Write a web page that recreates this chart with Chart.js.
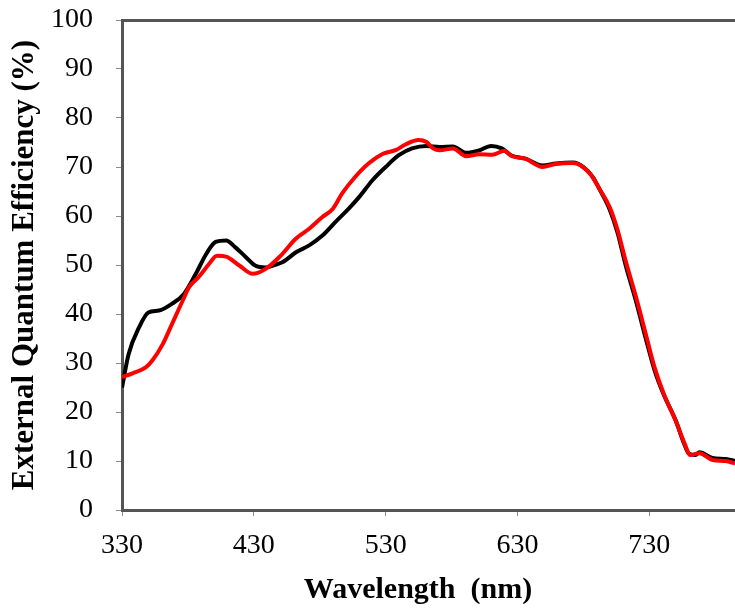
<!DOCTYPE html>
<html>
<head>
<meta charset="utf-8">
<script src="https://cdn.jsdelivr.net/npm/chart.js@4"></script>
<style>
  body { margin: 0; background: #fff; }
  #wrap { width: 735px; height: 613px; position: relative; }
</style>
</head>
<body>
<div id="wrap"><canvas id="eqe"></canvas></div>
<script>
// wavelength (nm) / EQE (%)
const blackX = [330, 335, 343, 350, 358, 368, 377, 386, 394, 401, 409, 416, 424, 431, 439, 448, 452, 462, 472, 482,
  492, 502, 510, 520, 530, 540, 550, 561, 571, 581, 591, 601, 610, 618, 625, 636, 649, 659, 672, 680,
  687, 692, 700, 706, 712, 720, 728, 734, 741, 750, 756, 760, 765, 768, 778, 788, 795];
const blackY = [25.0, 31.8, 37.3, 40.3, 40.7, 42.1, 44.1, 48.2, 52.3, 54.7, 55.0, 53.6, 51.6, 49.9, 49.5, 50.2, 50.6, 52.6, 54.0, 56.0,
  58.8, 61.5, 63.9, 67.3, 70.0, 72.4, 73.8, 74.3, 74.1, 74.2, 72.9, 73.4, 74.3, 73.8, 72.4, 71.7, 70.3, 70.7, 70.9, 70.0,
  68.0, 65.6, 61.3, 56.5, 50.0, 42.5, 34.3, 28.5, 23.5, 18.3, 13.8, 11.5, 11.2, 11.8, 10.6, 10.4, 10.0];

const redX = [330, 338, 348, 353, 361, 368, 376, 381, 388, 396, 402, 409, 419, 429, 439, 450, 462, 472, 482, 490,
  497, 507, 517, 528, 538, 545, 555, 561, 566, 571, 581, 591, 601, 611, 620, 626, 636, 649, 659, 672,
  678, 686, 692, 700, 706, 712, 720, 728, 734, 741, 750, 757, 761, 768, 778, 788, 795];
const redY = [27.1, 27.9, 29.1, 30.5, 33.9, 38.0, 42.7, 45.5, 47.5, 50.2, 51.9, 51.7, 49.9, 48.2, 49.2, 51.8, 55.4, 57.4, 59.8, 61.5,
  64.6, 68.0, 70.7, 72.7, 73.5, 74.6, 75.5, 75.1, 73.8, 73.4, 73.8, 72.2, 72.6, 72.5, 73.3, 72.2, 71.7, 70.0, 70.6, 70.8,
  70.3, 68.3, 65.6, 61.8, 57.1, 50.9, 43.4, 35.2, 29.1, 23.7, 18.2, 13.4, 11.2, 11.6, 10.2, 10.0, 9.5];

const xTicks = [330, 430, 530, 630, 730];

const SERIF = '"Liberation Serif", "Times New Roman", serif';

function toPoints(xs, ys) {
    return xs.map((x, i) => ({ x: x, y: ys[i] }));
}

// axis titles drawn by hand so they sit where the original put them
const axisTitles = {
    id: 'axisTitles',
    afterDraw(chart) {
        const ctx = chart.ctx;
        ctx.save();
        ctx.fillStyle = '#000';
        ctx.textAlign = 'center';
        ctx.textBaseline = 'alphabetic';
        ctx.font = 'bold 30px ' + SERIF;
        ctx.fillText('Wavelength  (nm)', 418, 598);
        ctx.translate(25, 265);
        ctx.rotate(-Math.PI / 2);
        ctx.textBaseline = 'middle';
        ctx.font = 'bold 31px ' + SERIF;
        ctx.fillText('External Quantum Efficiency (%)', 0, 0);
        ctx.restore();
    }
};

// no extra room for half tick labels, the plot box is fixed by hand
function noPad(scale) {
    scale.paddingTop = 0;
    scale.paddingBottom = 0;
    scale.paddingLeft = 0;
    scale.paddingRight = 0;
}

const ctx = document.getElementById('eqe').getContext('2d');
new Chart(ctx, {
    type: 'line',
    data: {
        datasets: [
            {
                // red first so it is painted on top of the black one
                data: toPoints(redX, redY),
                borderColor: '#ff0000',
                borderWidth: 4,
                pointRadius: 0,
                cubicInterpolationMode: 'monotone',
                fill: false
            },
            {
                data: toPoints(blackX, blackY),
                borderColor: '#000000',
                borderWidth: 4,
                pointRadius: 0,
                cubicInterpolationMode: 'monotone',
                fill: false
            }
        ]
    },
    options: {
        responsive: true,
        maintainAspectRatio: false,
        animation: false,
        layout: { padding: { top: 20, right: 0, left: 0, bottom: 0 } },
        plugins: {
            legend: { display: false },
            tooltip: { enabled: false }
        },
        scales: {
            x: {
                type: 'linear',
                min: 330,
                max: 795,
                afterBuildTicks: scale => { scale.ticks = xTicks.map(v => ({ value: v })); },
                afterFit: scale => { scale.height = 103; noPad(scale); },
                ticks: {
                    color: '#000',
                    padding: 13,
                    maxRotation: 0,
                    font: { family: SERIF, size: 28 }
                },
                grid: { drawOnChartArea: false, drawTicks: true, tickLength: 6, color: '#8c8c8c' },
                border: { display: true, color: '#555', width: 3 }
            },
            xTop: {
                type: 'linear',
                position: 'top',
                min: 330,
                max: 795,
                afterFit: scale => { scale.height = 0; noPad(scale); },
                ticks: { display: false },
                grid: { display: false },
                border: { display: true, color: '#555', width: 3 }
            },
            y: {
                min: 0,
                max: 100,
                afterFit: scale => { scale.width = 122; noPad(scale); },
                ticks: {
                    stepSize: 10,
                    color: '#000',
                    padding: 23,
                    font: { family: SERIF, size: 28 }
                },
                grid: { drawOnChartArea: false, drawTicks: true, tickLength: 6, color: '#8c8c8c' },
                border: { display: true, color: '#555', width: 3 }
            }
        }
    },
    plugins: [axisTitles]
});
</script>
</body>
</html>
